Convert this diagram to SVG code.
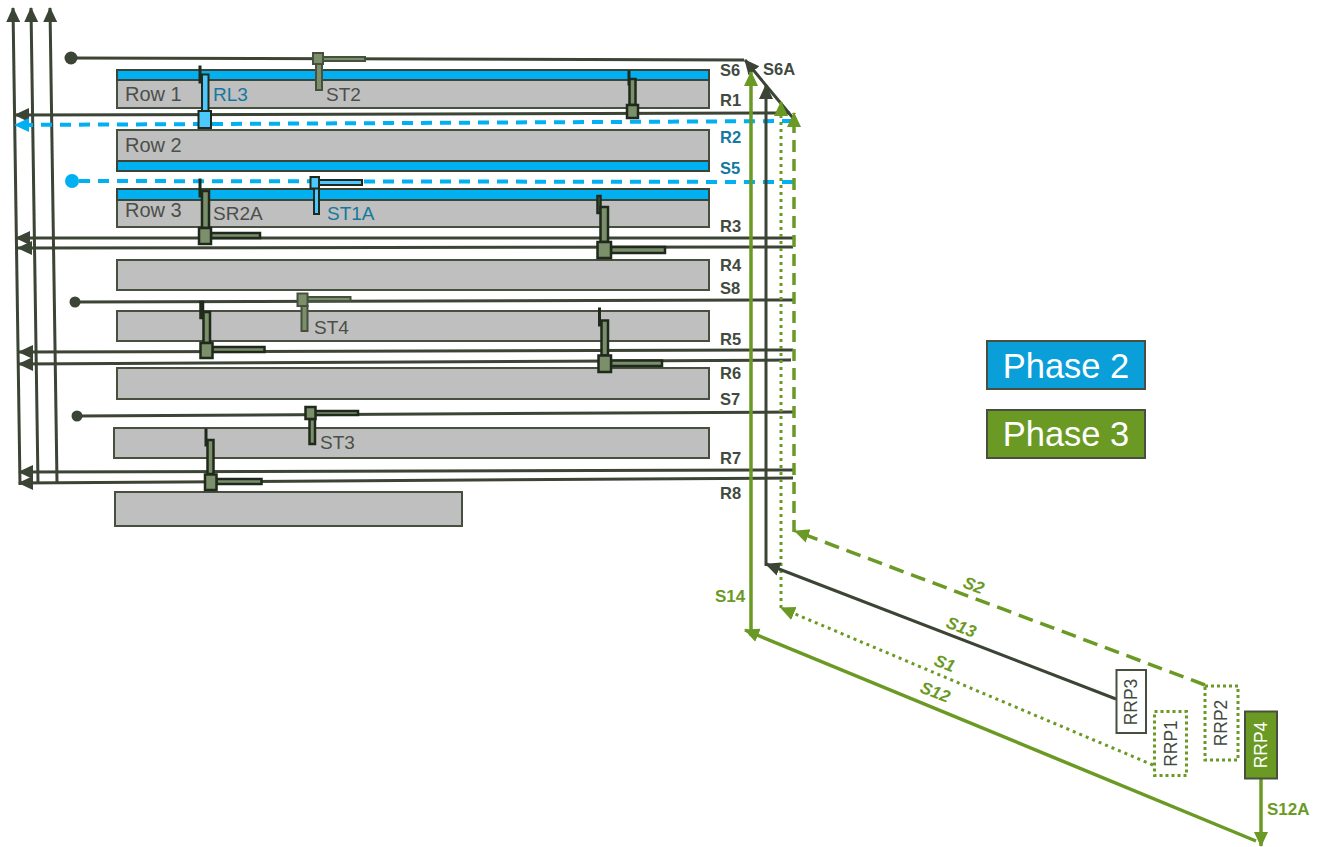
<svg xmlns="http://www.w3.org/2000/svg" width="1330" height="847" viewBox="0 0 1330 847">
<style>
text{font-family:"Liberation Sans",Arial,sans-serif}
.row{fill:#bfbfbf;stroke:#47503f;stroke-width:2}
.band{fill:#00b0f0;stroke:#3b4435;stroke-width:2}
.d{fill:none;stroke:#3b4435;stroke-width:3}
.dt{fill:none;stroke:#3b4435;stroke-width:3;marker-end:url(#ad)}
.bd{fill:none;stroke:#00b0f0;stroke-width:4;stroke-dasharray:11 8}
.g{fill:none;stroke:#6a9a24;stroke-width:3.5}
.gn{fill:#7a8f6a;stroke:#1f2a1c;stroke-width:2.500}
.gl{fill:#7a8f6a;stroke:#47503f;stroke-width:2}
.bl{fill:#4dc8ff;stroke:#1f2a1c;stroke-width:2}
.tk{fill:#1f2a1c;stroke:#1f2a1c;stroke-width:1}
.lb{font-size:16.5px;font-weight:bold;fill:#414a3e}
.lbb{font-size:16.5px;font-weight:bold;fill:#14789f}
.lg{font-size:17px;font-weight:bold;fill:#6a9a24}
.lgi{font-size:17px;font-weight:bold;font-style:italic;fill:#6a9a24}
.rl{font-size:20px;fill:#4a4f48}
.sl{font-size:19px;fill:#4a4f48}
.slb{font-size:19px;fill:#14789f}
.rrp{font-size:17.5px;fill:#414a3e;text-anchor:middle}
</style>
<defs>
<marker id="ad" markerUnits="userSpaceOnUse" markerWidth="16" markerHeight="16" refX="14" refY="8" orient="auto"><path d="M0 1L15 8L0 15Z" fill="#3b4435"/></marker>
<marker id="ab" markerUnits="userSpaceOnUse" markerWidth="16" markerHeight="16" refX="14" refY="8" orient="auto"><path d="M0 1L15 8L0 15Z" fill="#00b0f0"/></marker>
<marker id="ag" markerUnits="userSpaceOnUse" markerWidth="16" markerHeight="16" refX="14" refY="8" orient="auto"><path d="M0 1L15 8L0 15Z" fill="#6a9a24"/></marker>
</defs>

<g id="rows">
<g id="row1"><rect class="row" x="117" y="70" width="592" height="38"/><rect class="band" x="117" y="70" width="592" height="10"/><text class="rl" x="125" y="101">Row 1</text></g>
<g id="row2"><rect class="row" x="117" y="130" width="592" height="41"/><rect class="band" x="117" y="161" width="592" height="10"/><text class="rl" x="125" y="152">Row 2</text></g>
<g id="row3"><rect class="row" x="117" y="189" width="592" height="38"/><rect class="band" x="117" y="189" width="592" height="11"/><text class="rl" x="125" y="217">Row 3</text></g>
<g id="row4"><rect class="row" x="117" y="260" width="592" height="30"/></g>
<g id="row5"><rect class="row" x="117" y="311" width="592" height="30"/></g>
<g id="row6"><rect class="row" x="117" y="368" width="592" height="31"/></g>
<g id="row7"><rect class="row" x="114" y="428" width="595" height="30"/></g>
<g id="row8"><rect class="row" x="115" y="492" width="347" height="34"/></g>
</g>

<g id="connectors">
<path class="dt" d="M20 485L13 8"/><path class="dt" d="M38 483L31 8"/><path class="dt" d="M57 482L50 8"/>
<path class="d" d="M71 58L744 60"/>
<path class="dt" d="M793 118L745 60"/>
<path class="dt" d="M790 113L15 115"/>
<path class="bd" d="M793 121L15 125" style="marker-end:url(#ab)"/>
<path class="bd" d="M793 182L78 181"/>
<path class="dt" d="M793 238L16 238"/>
<path class="dt" d="M793 247L18 248"/>
<path class="d" d="M75 302L793 300"/>
<path class="dt" d="M793 350L19 352"/>
<path class="dt" d="M791 360L19 364"/>
<path class="d" d="M77 416L793 412"/>
<path class="dt" d="M793 470L19 472"/>
<path class="dt" d="M793 478L19 483"/>
<path class="g" d="M751 636L751 72" style="marker-end:url(#ag)"/>
<path class="dt" d="M766 566L766 85"/>
<path class="g" d="M781 608L781 102" style="stroke-width:3;stroke-dasharray:3 4;marker-end:url(#ag)"/>
<path class="g" d="M794 532L794 113" style="stroke-dasharray:12 7;marker-end:url(#ag)"/>
<path class="g" d="M1205 685L795 531" style="stroke-dasharray:15 8;marker-end:url(#ag)"/>
<path class="dt" d="M1116 699L766 564"/>
<path class="g" d="M1153 765L781 608" style="stroke-width:3;stroke-dasharray:3 4;marker-end:url(#ag)"/>
<path class="g" d="M1256 841L745 630" style="marker-end:url(#ag)"/>
<path class="g" d="M1261 779L1261 846" style="marker-end:url(#ag)"/>
<circle cx="71" cy="58" r="6.500" fill="#3b4435"/><circle cx="72" cy="181" r="7" fill="#00b0f0"/><circle cx="75" cy="302" r="5.500" fill="#3b4435"/><circle cx="77" cy="416" r="5.500" fill="#3b4435"/>
</g>

<g id="RL3"><rect class="tk" x="199" y="66" width="2" height="17"/><rect class="bl" x="202" y="74.500" width="6.500" height="38"/><rect class="bl" x="198.500" y="111" width="12.500" height="17"/><text class="slb" x="213" y="101">RL3</text></g>
<g id="ST2"><rect class="gl" x="323" y="57" width="42" height="4"/><rect class="gl" x="316" y="64" width="6" height="26"/><rect class="gl" x="313" y="53" width="10" height="11"/><text class="sl" x="326" y="101">ST2</text></g>
<g id="ST1A"><rect class="bl" x="319" y="180" width="43" height="5"/><rect class="bl" x="314" y="188" width="5" height="26"/><rect class="bl" x="310.500" y="177" width="8.500" height="11.500"/><text class="slb" x="327" y="220">ST1A</text></g>
<g id="SR2A"><rect class="tk" x="199" y="179" width="2" height="18"/><rect class="gn" x="202" y="191" width="7" height="37"/><rect class="gn" x="211" y="233" width="49" height="5"/><rect class="gn" x="199" y="228" width="12" height="16"/><text class="sl" x="213" y="220">SR2A</text></g>
<g id="R1-signal"><rect class="tk" x="628" y="71" width="2" height="14"/><rect class="gn" x="629.500" y="79" width="6" height="26"/><rect class="gn" x="627" y="105" width="11" height="13"/></g>
<g id="R3-signal"><rect class="gn" x="597.500" y="196" width="3" height="17"/><rect class="gn" x="600.500" y="207" width="7.500" height="35"/><rect class="gn" x="611" y="247" width="54" height="6"/><rect class="gn" x="597.500" y="242" width="13.500" height="16"/></g>
<g id="R5-left-signal"><rect class="gn" x="200.500" y="302" width="2.500" height="16"/><rect class="gn" x="203.500" y="312" width="6.500" height="31"/><rect class="gn" x="212.500" y="347" width="52" height="5"/><rect class="gn" x="200.500" y="343" width="12" height="15"/></g>
<g id="R5-right-signal"><rect class="tk" x="598.500" y="308" width="2" height="18"/><rect class="gn" x="601.500" y="320.500" width="6.500" height="35"/><rect class="gn" x="611" y="360.500" width="51" height="5.500"/><rect class="gn" x="598.500" y="355.500" width="12.500" height="16.500"/></g>
<g id="ST4"><rect class="gl" x="307.500" y="297" width="43" height="4"/><rect class="gl" x="301.500" y="306" width="6" height="25"/><rect class="gl" x="297.500" y="293.500" width="10" height="12.500"/><text class="sl" x="314" y="334">ST4</text></g>
<g id="ST3"><rect class="gn" x="315" y="411" width="43" height="4"/><rect class="gn" x="309.500" y="419" width="5.500" height="25"/><rect class="gn" x="305.500" y="407" width="10" height="12"/><text class="sl" x="320" y="449">ST3</text></g>
<g id="R7-signal"><rect class="tk" x="205" y="429" width="2" height="17"/><rect class="gn" x="207.500" y="440" width="6" height="34"/><rect class="gn" x="216.500" y="479" width="45" height="5"/><rect class="gn" x="205" y="474.500" width="11.500" height="15.500"/></g>

<g id="RRP3"><rect x="1116.500" y="670" width="29.500" height="63" fill="#fff" stroke="#47503f" stroke-width="2"/><text class="rrp" transform="translate(1137 702) rotate(-90)">RRP3</text></g>
<g id="RRP1"><rect x="1154.500" y="711.500" width="32" height="64" fill="#fff" stroke="#6a9a24" stroke-width="3" stroke-dasharray="3 3"/><text class="rrp" transform="translate(1176.500 743.500) rotate(-90)">RRP1</text></g>
<g id="RRP2"><rect x="1205" y="686" width="33" height="74" fill="#fff" stroke="#6a9a24" stroke-width="3" stroke-dasharray="3 3"/><text class="rrp" transform="translate(1227 723) rotate(-90)">RRP2</text></g>
<g id="RRP4"><rect x="1245" y="711.500" width="32" height="67" fill="#6a9a24" stroke="#47503f" stroke-width="2"/><text class="rrp" style="fill:#fff" transform="translate(1267 745) rotate(-90)">RRP4</text></g>

<g id="phase2"><rect x="987" y="341" width="158" height="48" fill="#0a9fd8" stroke="#47503f" stroke-width="2"/><text x="1066" y="378" font-size="34.500" fill="#fff" text-anchor="middle">Phase 2</text></g>
<g id="phase3"><rect x="987" y="410" width="158" height="48" fill="#6a9a24" stroke="#47503f" stroke-width="2"/><text x="1066" y="446" font-size="34.500" fill="#fff" text-anchor="middle">Phase 3</text></g>

<g id="labels">
<text class="lb" x="720" y="76">S6</text><text class="lb" x="763" y="75">S6A</text>
<text class="lb" x="720" y="106">R1</text><text class="lbb" x="720" y="143">R2</text><text class="lbb" x="720" y="174">S5</text>
<text class="lb" x="720" y="232">R3</text><text class="lb" x="720" y="271">R4</text><text class="lb" x="720" y="294">S8</text>
<text class="lb" x="720" y="345">R5</text><text class="lb" x="720" y="379">R6</text><text class="lb" x="720" y="405">S7</text>
<text class="lb" x="720" y="464">R7</text><text class="lb" x="720" y="499">R8</text>
<text class="lg" x="715" y="602">S14</text><text class="lg" x="1267" y="815">S12A</text>
<text class="lgi" transform="translate(962 587) rotate(21)">S2</text>
<text class="lgi" transform="translate(945 627) rotate(21)">S13</text>
<text class="lgi" transform="translate(933 665) rotate(21)">S1</text>
<text class="lgi" transform="translate(919 692) rotate(21)">S12</text>
</g>
</svg>
